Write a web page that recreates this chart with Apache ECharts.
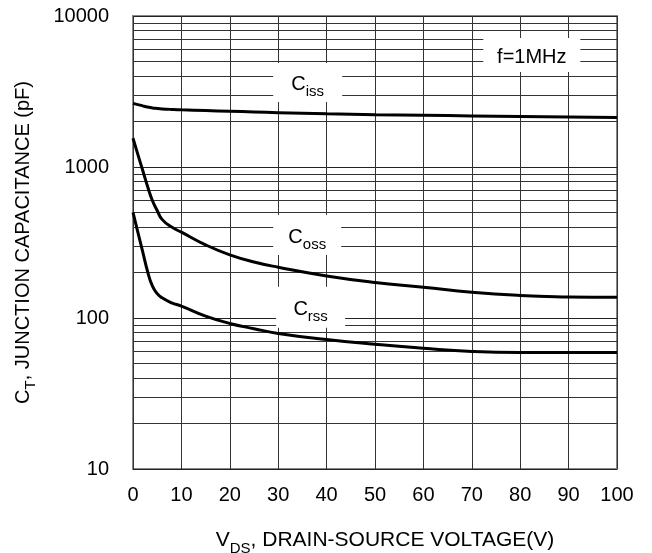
<!DOCTYPE html>
<html>
<head>
<meta charset="utf-8">
<script src="https://cdn.jsdelivr.net/npm/echarts@6/dist/echarts.min.js"></script>
<style>
html,body{margin:0;padding:0;background:#fff;}
#chart{width:652px;height:553px;}
</style>
</head>
<body>
<div id="chart"></div>
<script>
// Data
var vds  = [0, 1, 2, 3, 4, 5, 6, 8, 10, 15, 20, 25, 30, 40, 50, 60, 70, 80, 90, 100];
var ciss = [2640, 2590, 2540, 2495, 2460, 2440, 2425, 2405, 2390, 2365, 2340, 2315, 2290, 2250, 2220, 2200, 2180, 2160, 2145, 2130];
var coss = [1550, 1213, 951, 745, 600, 515, 450, 400, 370, 305, 262, 235, 217, 190, 172, 160, 148, 141, 138, 137];
var crss = [500, 371, 275, 204, 163, 145, 136, 126, 120, 103, 92, 85, 79, 72, 67, 63, 60, 59, 59, 59];
var minorGrid = [20,30,40,50,60,70,80,90,200,300,400,500,600,700,800,900,2000,3000,4000,5000,6000,7000,8000,9000];
var xTicks = [0,10,20,30,40,50,60,70,80,90,100];
var yTicks = [10,100,1000,10000];
// Annotations: rich text, anchor (V, pF)
var labelTexts = ['{c|C}{s|iss}', '{c|C}{s|oss}', '{c|C}{s|rss}', '{c|f=1MHz}'];
var labelX = [36.1, 36.0, 36.7, 82.4];
var labelY = [3627, 354, 118, 5516];
var labelW = [69, 68, 69, 97];
var labelH = [39, 40, 41, 34];

function pairs(xs, ys){ return xs.map(function(x,i){ return [x, ys[i]]; }); }

var FONT = 'Liberation Sans, Arial';
var rich = {
  c: {fontSize: 20, fontFamily: FONT, color: '#000', lineHeight: 24, verticalAlign: 'bottom'},
  s: {fontSize: 15, fontFamily: FONT, color: '#000', lineHeight: 24, verticalAlign: 'bottom', padding: [0,0,-5,0]}
};
var richX = {
  c: {fontSize: 21, fontFamily: FONT, color: '#000', lineHeight: 24, verticalAlign: 'bottom'},
  s: {fontSize: 15, fontFamily: FONT, color: '#000', lineHeight: 24, verticalAlign: 'bottom', padding: [0,0,-5,0]}
};

var chart = echarts.init(document.getElementById('chart'));
var curveStyle = {color: '#000', width: 3};
var option = {
  animation: false,
  backgroundColor: '#fff',
  grid: {left: 133, right: 35, top: 16, bottom: 84, show: true, borderColor: '#888', borderWidth: 2,
         backgroundColor: 'transparent', containLabel: false, outerBoundsMode: 'none'},
  xAxis: {
    type: 'value', min: 0, max: 100, interval: 10,
    axisLine: {show: false},
    axisTick: {show: false},
    axisLabel: {color: '#000', fontSize: 20, fontFamily: FONT, margin: 16,
      formatter: function(v){ return xTicks.indexOf(v) >= 0 ? String(v) : ''; }},
    splitLine: {show: true, lineStyle: {color: '#333', width: 1}},
    name: '{c|V}{s|DS}{c|, DRAIN-SOURCE VOLTAGE(V)}',
    nameLocation: 'middle', nameGap: 58,
    nameTextStyle: {rich: richX, padding: [0,0,0,20]}
  },
  yAxis: {
    type: 'log', logBase: 10, min: 10, max: 10000,
    axisLine: {show: false},
    axisTick: {show: false},
    axisLabel: {color: '#000', fontSize: 20, fontFamily: FONT, margin: 24,
      formatter: function(v){ return yTicks.indexOf(Math.round(v)) >= 0 ? String(Math.round(v)) : ''; }},
    splitLine: {show: true, lineStyle: {color: '#222', width: 1}},
    name: '{c|C}{s|T}{c|, JUNCTION CAPACITANCE (pF)}',
    nameLocation: 'middle', nameGap: 100,
    nameTextStyle: {rich: rich}
  },
  series: [
    {
      type: 'line', data: [], silent: true,
      markLine: {
        silent: true, symbol: ['none','none'], z: 1,
        label: {show: false},
        lineStyle: {color: '#333', width: 1, type: 'solid'},
        data: minorGrid.map(function(v){ return {yAxis: v}; })
      }
    },
    {type: 'line', name: 'Ciss', data: pairs(vds, ciss), showSymbol: false, smooth: 0.5, lineStyle: curveStyle, z: 3},
    {type: 'line', name: 'Coss', data: pairs(vds, coss), showSymbol: false, smooth: 0.5, lineStyle: curveStyle, z: 3},
    {type: 'line', name: 'Crss', data: pairs(vds, crss), showSymbol: false, smooth: 0.5, lineStyle: curveStyle, z: 3},
    {
      type: 'line', data: [], silent: true,
      markPoint: {
        silent: true, z: 10,
        data: labelTexts.map(function(t,i){
          return {
            coord: [labelX[i], labelY[i]],
            symbol: 'rect', symbolSize: [labelW[i], labelH[i]],
            itemStyle: {color: '#fff'},
            label: {show: true, position: 'inside', formatter: t, rich: rich}
          };
        })
      }
    }
  ]
};
chart.setOption(option);
</script>
</body>
</html>
